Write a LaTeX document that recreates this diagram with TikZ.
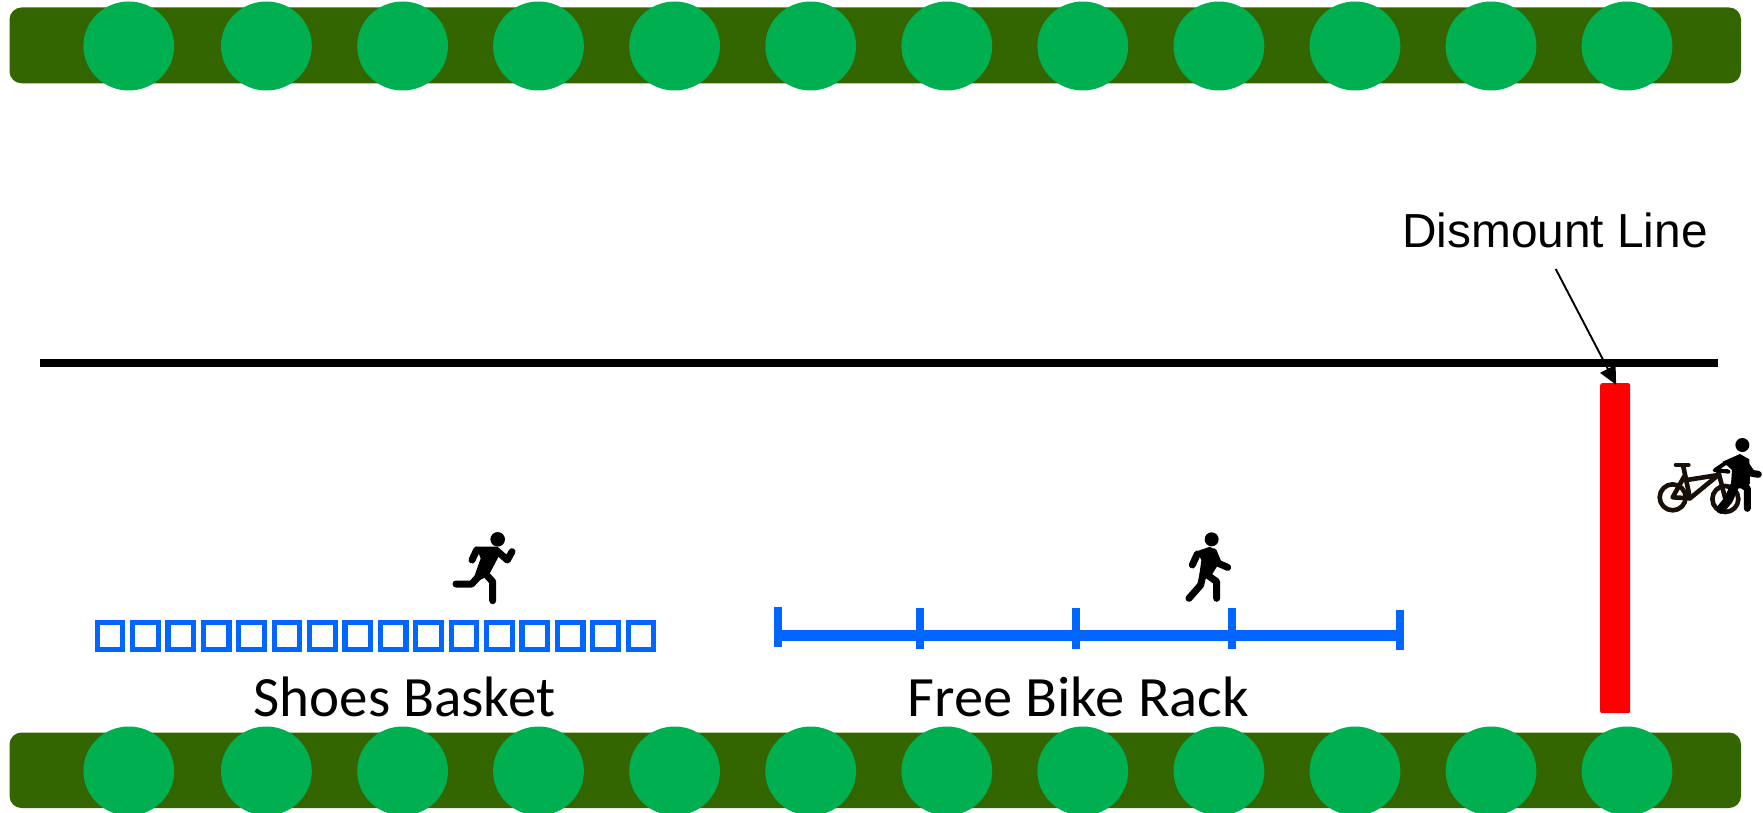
\documentclass[tikz,border=0pt]{standalone}
\usepackage{fontspec}
\setmainfont{Carlito}
\newfontfamily\arialfont{Liberation Sans}
\usetikzlibrary{arrows.meta}
\definecolor{hedge}{HTML}{336600}
\definecolor{tree}{HTML}{00AF50}
\definecolor{rackblue}{HTML}{0066FF}
\tikzset{
  hedgebar/.style={fill=hedge,rounded corners=12pt},
  treeblob/.style={fill=tree},
  basketbox/.style={draw=rackblue,line width=5.2pt,fill=white},
  rackbar/.style={fill=rackblue},
  label/.style={anchor=base west,inner sep=0pt,text=black},
  figstroke/.style={line width=7pt,line cap=round,line join=round,draw=black},
  bikestroke/.style={line width=4.6pt,line cap=round,line join=round,draw=black!88!brown},
  iconscope/.style={x=0.33333pt,y=-0.33333pt}
}
\begin{document}
\begin{tikzpicture}[x=1pt,y=-1pt]
\useasboundingbox (0,0) rectangle (1763,813);
% hedges
\fill[hedgebar] (9.5,7.5) rectangle (1741,83.3);
\fill[hedgebar] (9.5,732.5) rectangle (1741,808);
\foreach \cx in {128.8,266.4,402.6,538.5,674.6,810.7,946.8,1082.8,1218.9,1355,1491,1627}{
  \fill[treeblob] (\cx,46) ellipse [x radius=45.4pt,y radius=44.5pt];
  \fill[treeblob] (\cx,771) ellipse [x radius=45.4pt,y radius=44.5pt];
}
% road line
\fill[black] (39.5,358.8) rectangle (1718,367.4);
% dismount bar
\node[fill=red,rounded corners=2pt,minimum width=30pt,minimum height=330pt,inner sep=0pt,anchor=north west] (redbar) at (1600,383) {};
% labels
\node[label,font=\arialfont\fontsize{47.8}{50}\selectfont] (dismount) at (1402,247.5) {Dismount Line};
\node[label,font=\fontsize{57}{60}\selectfont] (shoes) at (253.5,716.5) {Shoes Basket};
\node[label,font=\fontsize{57}{60}\selectfont] (rack) at (907.5,716.5) {\scalebox{1.027}[1]{Free Bike Rack}};
% arrow
\coordinate (arrowstart) at (1555.7,269);
\draw[line width=1.9pt,shorten >=-2pt,-{Triangle[length=18pt,width=17pt]}] (arrowstart) -- (redbar.north);
% basket
\foreach \i in {0,...,15}{
  \draw[basketbox] ({97.1+35.4*\i},622.6) rectangle ++(25.6,26.6);
}
% rack
\fill[rackbar] (774,630) rectangle (1404,640.7);
\fill[rackbar] (774,606.7) rectangle (781.6,646.7);
\fill[rackbar] (916,608) rectangle (923.8,648.7);
\fill[rackbar] (1072,608) rectangle (1079.6,648.7);
\fill[rackbar] (1228,608) rectangle (1235.6,648.7);
\fill[rackbar] (1396,610) rectangle (1404,650);
% runner
\begin{scope}[shift={(430,510)},iconscope]
  \fill (203,88) circle[radius=7.3pt];
  \fill (138,110) -- (195,110) -- (212,128) -- (178,192) -- (160,205) -- (125,222) -- (152,145) -- cycle;
  \draw[figstroke] (140,120) -- (126,150);
  \draw[figstroke] (198,120) -- (232,150) -- (246,125);
  \draw[figstroke] (150,195) -- (125,222) -- (78,222);
  \draw[figstroke] (165,190) -- (188,215) -- (188,272);
\end{scope}
% walker
\begin{scope}[shift={(1160,510)},iconscope]
  \fill (155,88) circle[radius=7pt];
  \fill (110,124) -- (150,110) -- (165,122) -- (178,158) -- (155,195) -- (118,195) -- (124,150) -- cycle;
  \draw[figstroke] (112,132) -- (97,165);
  \draw[figstroke] (160,125) -- (175,160) -- (203,172);
  \draw[figstroke] (130,190) -- (122,225) -- (87,265);
  \draw[figstroke] (135,190) -- (170,215) -- (170,265);
\end{scope}
% person with bike
\begin{scope}[shift={(1640,420)},iconscope]
  \draw[bikestroke] (98,232) circle[radius=13pt];
  \draw[bikestroke] (256,237) circle[radius=13pt];
  \draw[bikestroke] (108,135) -- (145,135);
  \draw[bikestroke] (130,140) -- (150,235) -- (98,232) -- (135,165);
  \draw[bikestroke] (140,180) -- (235,165) -- (150,235);
  \draw[bikestroke] (235,155) -- (256,237);
  \draw[bikestroke,line width=3pt] (222,150) -- (262,150);
  \fill (307,75) circle[radius=7pt];
  \fill (248,125) -- (300,102) -- (328,118) -- (330,190) -- (318,205) -- (272,205) -- (276,150) -- cycle;
  \draw[figstroke] (318,135) -- (335,160) -- (355,163);
  \draw[figstroke] (300,190) -- (322,205) -- (322,265);
  \draw[figstroke,line width=9pt] (285,195) -- (265,240) -- (242,268);
  \draw[figstroke,line width=4pt] (255,130) -- (225,150) -- (265,155);
\end{scope}
\end{tikzpicture}
\end{document}
